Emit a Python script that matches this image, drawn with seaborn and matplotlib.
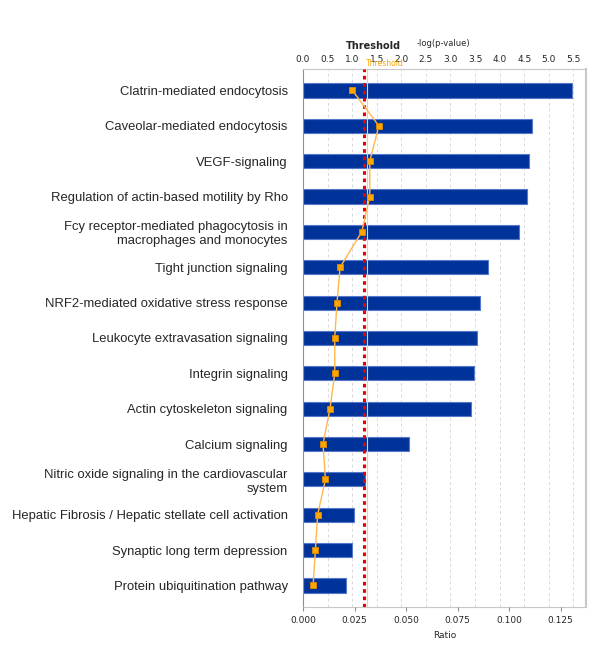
import numpy as np
import pandas as pd
import matplotlib
matplotlib.use("Agg")
import matplotlib.pyplot as plt
import seaborn as sns

pathways = [
    "Clatrin-mediated endocytosis",
    "Caveolar-mediated endocytosis",
    "VEGF-signaling",
    "Regulation of actin-based motility by Rho",
    "Fcy receptor-mediated phagocytosis in\nmacrophages and monocytes",
    "Tight junction signaling",
    "NRF2-mediated oxidative stress response",
    "Leukocyte extravasation signaling",
    "Integrin signaling",
    "Actin cytoskeleton signaling",
    "Calcium signaling",
    "Nitric oxide signaling in the cardiovascular\nsystem",
    "Hepatic Fibrosis / Hepatic stellate cell activation",
    "Synaptic long term depression",
    "Protein ubiquitination pathway",
]
neglogp = [5.48, 4.65, 4.59, 4.55, 4.39, 3.76, 3.61, 3.53, 3.47, 3.41,
           2.16, 1.27, 1.03, 1.00, 0.88]
ratio = [0.024, 0.0368, 0.0324, 0.0324, 0.0285, 0.018, 0.0165, 0.0154,
         0.0154, 0.0131, 0.0097, 0.0109, 0.0071, 0.006, 0.0049]
top_ticks = [0.0, 0.5, 1.0, 1.5, 2.0, 2.5, 3.0, 3.5, 4.0, 4.5, 5.0, 5.5]
bottom_ticks = [0.0, 0.025, 0.05, 0.075, 0.1, 0.125]
threshold = 1.3

sns.set_style("white")
plt.rcParams['font.family'] = ['Liberation Sans', 'DejaVu Sans']

df = pd.DataFrame({"pathway": pathways, "neglogp": neglogp, "ratio": ratio,
                   "pos": np.arange(len(pathways))})

fig = plt.figure(figsize=(6.0, 6.63), dpi=100)
ax = fig.add_axes([0.505, 0.085, 0.472, 0.8105])

sns.barplot(data=df, x="neglogp", y="pathway", ax=ax, color="#003399",
            saturation=1, width=0.4, edgecolor="#5577cc", linewidth=0.8,
            orient="h")
ax.set_xlim(0, 5.76)
ax.set_xlabel("")
ax.set_ylabel("")
ax.grid(axis="x", color="#d8d8d8", linestyle=(0, (3, 3)), linewidth=0.7)
ax.set_axisbelow(True)
ax.axvline(1.25, color="#ee0000", linestyle=(0, (1.2, 1.2)), linewidth=2.2,
           zorder=4)
ax.axvline(threshold, color="#ffcc80", linewidth=0.8, zorder=3)

ax2 = ax.twiny()
ax2.set_xlim(0, 0.1374)
sns.lineplot(data=df, x="ratio", y="pos", ax=ax2, sort=False, orient="y",
             color="#ffb84d", linewidth=1.0, marker="s", markersize=4.6,
             markerfacecolor="#ffa500", markeredgecolor="#e08a00",
             markeredgewidth=0.6, zorder=5)
ax2.set_ylim(len(pathways) - 0.4, -0.6)

# top axis: -log(p-value)
ax.xaxis.tick_top()
ax.xaxis.set_label_position("top")
ax.set_xticks(top_ticks)
ax.set_xticklabels([f"{t:.1f}" for t in top_ticks], fontsize=6.5,
                   family="DejaVu Sans")
ax.tick_params(axis="x", length=0, pad=4)
ax.set_yticks(np.arange(len(pathways)))
ax.set_yticklabels(pathways)
ax.tick_params(axis="y", length=0, pad=11, labelsize=9.4)
for lab in ax.get_yticklabels():
    lab.set_multialignment("right")
for s in ["top", "right", "bottom"]:
    ax.spines[s].set_color("#c8c8c8")
ax.spines["left"].set_color("#909090")
ax.spines["right"].set_linewidth(1.5)

# bottom axis: Ratio
ax2.xaxis.tick_bottom()
ax2.xaxis.set_label_position("bottom")
ax2.set_xticks(bottom_ticks)
ax2.set_xticklabels([f"{t:.3f}" for t in bottom_ticks], fontsize=6.5,
                    family="DejaVu Sans")
ax2.tick_params(axis="x", length=3, color="#909090", pad=4)
ax2.set_xlabel("Ratio", fontsize=6.5, family="DejaVu Sans", labelpad=4)
ax2.set_ylabel("")
for s in ax2.spines.values():
    s.set_visible(False)

fig.text(373 / 600, 1 - 46 / 663, "Threshold", ha="center", va="center",
         fontsize=7, fontweight="bold", family="DejaVu Sans")
fig.text(443 / 600, 1 - 44 / 663, "-log(p-value)", ha="center", va="center",
         fontsize=6, family="DejaVu Sans")
fig.text(366 / 600, 1 - 63 / 663, "Threshold", ha="left", va="center",
         fontsize=5.5, color="#ffa500", family="DejaVu Sans")

fig.savefig("out.png", dpi=100)
